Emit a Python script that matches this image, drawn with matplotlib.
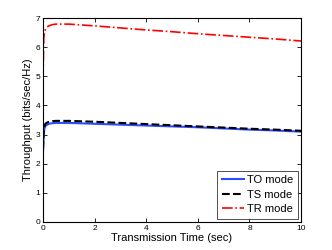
import matplotlib
matplotlib.use("Agg")
import matplotlib.pyplot as plt
import numpy as np

# transmission time (sec)
t = [0, 0.03, 0.06, 0.1, 0.2, 0.35, 0.5, 1, 2, 3, 4, 5, 6, 7, 8, 9, 10]
# throughput (bits/sec/Hz)
to_mode = [2.4, 3.05, 3.22, 3.3, 3.36, 3.39, 3.40, 3.40, 3.37, 3.34, 3.31, 3.28, 3.25, 3.21, 3.17, 3.14, 3.10]
ts_mode = [2.5, 3.12, 3.30, 3.38, 3.43, 3.46, 3.47, 3.47, 3.44, 3.40, 3.36, 3.32, 3.28, 3.24, 3.20, 3.17, 3.13]
tr_mode = [4.9, 6.3, 6.52, 6.62, 6.72, 6.77, 6.79, 6.79, 6.73, 6.66, 6.59, 6.53, 6.46, 6.40, 6.34, 6.28, 6.21]

plt.rcParams['font.family'] = ['Liberation Sans', 'DejaVu Sans']

fig = plt.figure(figsize=(3.32, 2.5), dpi=100)
ax = fig.add_axes([0.1295, 0.112, 0.7775, 0.816])

ax.plot(t, to_mode, color='#2b4cff', lw=1.5, label='TO mode')
ax.plot(t, ts_mode, color='black', lw=1.5, ls='--', label='TS mode')
ax.plot(t, tr_mode, color='red', lw=1.2, ls='-.', label='TR mode')

ax.set_xlim(0, 10)
ax.set_ylim(0, 7)
ax.set_xticks(np.arange(0, 11, 2))
ax.set_yticks(np.arange(0, 8, 1))
ax.tick_params(direction='in', top=True, right=True, labelsize=6, length=3, width=0.6, pad=2)
for s in ax.spines.values():
    s.set_linewidth(0.8)

ax.set_xlabel('Transmission Time (sec)', fontsize=8, labelpad=1)
ax.set_ylabel('Throughput (bits/sec/Hz)', fontsize=8, labelpad=2)

leg = ax.legend(loc='lower right', fontsize=8, handlelength=2.0, handletextpad=0.3,
                labelspacing=0.4, borderpad=0.4, borderaxespad=0.3, fancybox=False)
leg.get_frame().set_edgecolor('black')
leg.get_frame().set_linewidth(0.6)

fig.savefig('out.png', dpi=100)
